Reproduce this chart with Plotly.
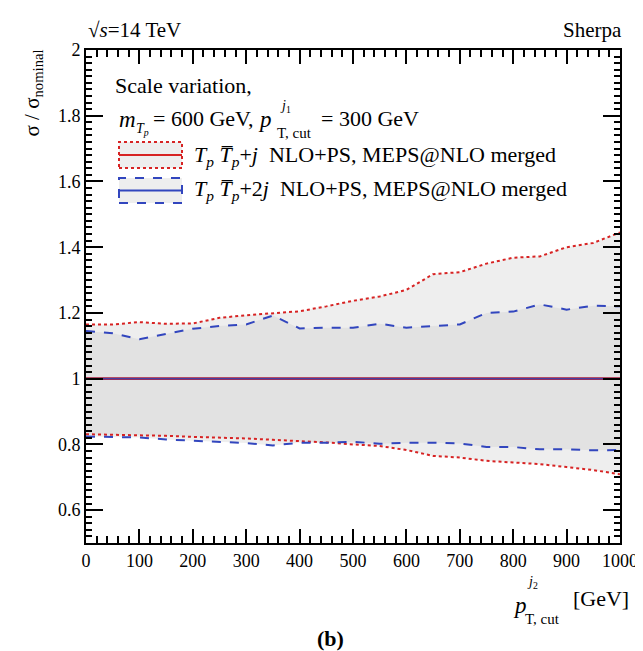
import plotly.graph_objects as go

# ---------------- data ----------------
pt_cut = [0, 50, 100, 150, 200, 250, 300, 350, 400, 450, 500,
          550, 600, 650, 700, 750, 800, 850, 900, 950, 1000]

nominal = [1.0, 1.0, 1.0, 1.0, 1.0, 1.0, 1.0, 1.0, 1.0, 1.0, 1.0,
           1.0, 1.0, 1.0, 1.0, 1.0, 1.0, 1.0, 1.0, 1.0, 1.0]

# TpTp+j NLO+PS, MEPS@NLO merged  (red, dotted)
j1_up = [1.165, 1.165, 1.172, 1.167, 1.168, 1.185, 1.193, 1.198, 1.205, 1.220, 1.237,
         1.250, 1.270, 1.318, 1.324, 1.350, 1.368, 1.372, 1.400, 1.413, 1.445]
j1_dn = [0.831, 0.830, 0.828, 0.826, 0.823, 0.821, 0.818, 0.814, 0.811, 0.806, 0.800,
         0.795, 0.783, 0.765, 0.760, 0.750, 0.745, 0.740, 0.731, 0.722, 0.709]

# TpTp+2j NLO+PS, MEPS@NLO merged  (blue, dashed)
j2_up = [1.145, 1.138, 1.120, 1.135, 1.152, 1.160, 1.165, 1.192, 1.153, 1.155, 1.155,
         1.167, 1.155, 1.160, 1.165, 1.200, 1.204, 1.226, 1.210, 1.222, 1.220]
j2_dn = [0.824, 0.822, 0.821, 0.815, 0.811, 0.806, 0.804, 0.797, 0.805, 0.805, 0.808,
         0.802, 0.805, 0.805, 0.803, 0.792, 0.792, 0.785, 0.785, 0.782, 0.783]

x_ticks = [0, 100, 200, 300, 400, 500, 600, 700, 800, 900, 1000]
y_ticks = [0.6, 0.8, 1.0, 1.2, 1.4, 1.6, 1.8, 2.0]
y_ticklabels = ["0.6", "0.8", "1", "1.2", "1.4", "1.6", "1.8", "2"]

# ---------------- styling ----------------
W, H = 643, 651
L, R, T, B = 78, 31, 42, 116
FONT = "Liberation Serif, Times New Roman, serif"
RED = "rgb(215,35,35)"
BLUE = "rgb(50,70,190)"
FILL = "rgba(200,200,200,0.3)"

pw, ph = W - L - R, H - T - B


def px(xp, yp):
    """page pixel -> paper coordinates"""
    return (xp - L) / pw, (H - B - yp) / ph


fig = go.Figure()

# bands
for up, dn in [(j1_up, j1_dn), (j2_up, j2_dn)]:
    fig.add_trace(go.Scatter(x=pt_cut, y=dn, mode="lines", line=dict(width=0),
                             showlegend=False, hoverinfo="skip"))
    fig.add_trace(go.Scatter(x=pt_cut, y=up, mode="lines", line=dict(width=0),
                             fill="tonexty", fillcolor=FILL,
                             showlegend=False, hoverinfo="skip"))

# boundaries
for y in (j1_up, j1_dn):
    fig.add_trace(go.Scatter(x=pt_cut, y=y, mode="lines",
                             line=dict(color=RED, width=2, dash="dot"), showlegend=False))
for y in (j2_up, j2_dn):
    fig.add_trace(go.Scatter(x=pt_cut, y=y, mode="lines",
                             line=dict(color=BLUE, width=2, dash="dash"), showlegend=False))

# nominal lines
fig.add_trace(go.Scatter(x=pt_cut, y=nominal, mode="lines",
                         line=dict(color=RED, width=2.6), showlegend=False))
fig.add_trace(go.Scatter(x=pt_cut, y=nominal, mode="lines",
                         line=dict(color="rgb(70,60,160)", width=1.6), showlegend=False))

axis_common = dict(showline=True, linecolor="black", linewidth=2, mirror="allticks",
                   ticks="inside", tickcolor="black", tickwidth=1.5, showgrid=False,
                   zeroline=False, tickfont=dict(family=FONT, size=18, color="black"))

fig.update_xaxes(range=[0, 1000], tickvals=x_ticks, ticklen=14,
                 minor=dict(dtick=20, ticklen=7, ticks="inside", tickcolor="black",
                            tickwidth=1.5, showgrid=False),
                 **axis_common)
fig.update_yaxes(range=[0.5, 2.0], tickvals=y_ticks, ticktext=y_ticklabels, ticklen=17,
                 minor=dict(dtick=0.02, ticklen=6, ticks="inside", tickcolor="black",
                            tickwidth=1.5, showgrid=False),
                 **axis_common)

annots = []


def txt(text, xp, yp, size=22, xanchor="left", yanchor="middle", angle=0):
    x, y = px(xp, yp)
    annots.append(dict(text=text, x=x, y=y, xref="paper", yref="paper",
                       xanchor=xanchor, yanchor=yanchor, showarrow=False,
                       textangle=angle, borderpad=0,
                       font=dict(family=FONT, size=size, color="black")))


# header
txt("√<i>s</i>=14 TeV", 79, 22, size=21)
txt("Sherpa", 615, 22, size=21, xanchor="right")

# y title
txt("σ / σ<sub>nominal</sub>", 25, 41, size=21, xanchor="center", yanchor="top", angle=-90)

# info text
txt("Scale variation,", 106, 77, size=22)
txt("<i>m</i>", 110, 111, size=23)
txt("<i>T<sub>p</sub></i>", 127, 121, size=14)
txt("= 600 GeV,", 144, 110, size=22)
txt("<i>p</i>", 249, 112, size=23)
txt("<i>j</i><sub>1</sub>", 271, 99, size=14)
txt("T, cut", 268, 125, size=15)
txt("= 300 GeV", 312, 110, size=22)

# legend texts
txt("<i>T<sub>p</sub></i> <i>T̅<sub>p</sub></i>+<i>j</i>  NLO+PS, MEPS@NLO merged",
    185, 148, size=22)
txt("<i>T<sub>p</sub></i> <i>T̅<sub>p</sub></i>+2<i>j</i>  NLO+PS, MEPS@NLO merged",
    185, 182, size=22)

# x title
txt("<i>p</i>", 504, 597, size=23)
txt("<i>j</i><sub>2</sub>", 518, 574, size=14)
txt("T, cut", 516, 611, size=15)
txt("[GeV]", 622, 590, size=22, xanchor="right")

# panel label
txt("<b>(b)</b>", 322, 630, size=22, xanchor="center")

# legend boxes
shapes = []
for (ytop, ybot, col, dash) in [(134, 160, RED, "dot"), (170, 195, BLUE, "dash")]:
    x0, y0 = px(111, ybot)
    x1, y1 = px(174, ytop)
    shapes.append(dict(type="rect", xref="paper", yref="paper", x0=x0, y0=y0, x1=x1, y1=y1,
                       line=dict(color=col, width=2, dash=dash), fillcolor="rgb(238,238,238)"))
    ym = (y0 + y1) / 2
    shapes.append(dict(type="line", xref="paper", yref="paper", x0=x0, y0=ym, x1=x1, y1=ym,
                       line=dict(color=col, width=2)))

fig.update_layout(width=W, height=H, margin=dict(l=L, r=R, t=T, b=B),
                  paper_bgcolor="white", plot_bgcolor="white",
                  annotations=annots, shapes=shapes, showlegend=False)

fig.write_html("out.html")
